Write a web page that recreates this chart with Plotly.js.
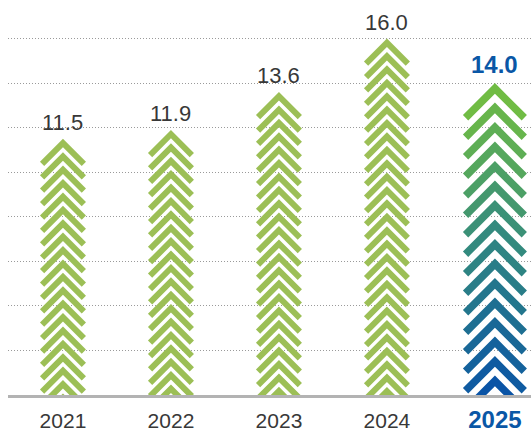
<!DOCTYPE html>
<html>
<head>
<meta charset="utf-8">
<script src="https://cdn.plot.ly/plotly-3.0.1.min.js"></script>
<style>html,body{margin:0;padding:0;background:#fff;}#chart{width:531px;height:433px;}</style>
</head>
<body>
<div id="chart"></div>
<script>
// ---- data ----
const years = ['2021', '2022', '2023', '2024', '2025'];
const values = [11.5, 11.9, 13.6, 16.0, 14.0];
const valueLabels = ['11.5', '11.9', '13.6', '16.0', '14.0'];
const highlighted = [false, false, false, false, true];

// ---- style / geometry (pixels) ----
const W = 531, H = 433;
const margin = {l: 8, r: 0, t: 0, b: 38};
const xRange = [-0.509, 4.334];
const yRange = [0, 17.73];
const ux = (W - margin.l - margin.r) / (xRange[1] - xRange[0]); // px per x unit
const uy = (H - margin.t - margin.b) / (yRange[1] - yRange[0]); // px per y unit

const normalStyle = {halfW: 23, t: 6, pitch: 13.4, color: '#9cbf56'};
const hiStyle = {halfW: 32, t: 7.5, pitch: 19.5};
const gradStops = [[0, [112, 188, 68]], [0.45, [52, 140, 125]], [1, [10, 84, 166]]];

function gradColor(f) {
  for (let s = 0; s < gradStops.length - 1; s++) {
    const [f0, c0] = gradStops[s], [f1, c1] = gradStops[s + 1];
    if (f <= f1) {
      const u = (f - f0) / (f1 - f0);
      const c = c0.map((v, j) => Math.round(v + (c1[j] - v) * u));
      return 'rgb(' + c.join(',') + ')';
    }
  }
  return 'rgb(' + gradStops[gradStops.length - 1][1].join(',') + ')';
}

// chevron polygon in px offsets relative to centreline tip
function chevronPx(st) {
  const h = st.t / 2, r2 = Math.SQRT2;
  const a = st.halfW - h / r2;
  return [
    [0, h * r2], [-a - h / r2, -a + h / r2], [-a + h / r2, -a - h / r2],
    [0, -h * r2], [a - h / r2, -a - h / r2], [a + h / r2, -a + h / r2], [0, h * r2]
  ];
}

function chevrons(i, value, st) {
  const poly = chevronPx(st);
  const h = st.t / 2;
  const list = [];
  let k = 0;
  while (true) {
    const tipC = value - (h * Math.SQRT2) / uy - k * st.pitch / uy;
    if (tipC + (h * Math.SQRT2) / uy <= 0) break;
    list.push({
      x: poly.map(p => i + p[0] / ux),
      y: poly.map(p => tipC + p[1] / uy)
    });
    k++;
  }
  return list;
}

const traces = [];
years.forEach((yr, i) => {
  if (!highlighted[i]) {
    const ch = chevrons(i, values[i], normalStyle);
    let xs = [], ys = [];
    ch.forEach(c => { xs = xs.concat(c.x, [null]); ys = ys.concat(c.y, [null]); });
    traces.push({
      type: 'scatter', mode: 'lines', x: xs, y: ys, fill: 'toself',
      fillcolor: normalStyle.color, line: {width: 0, color: normalStyle.color},
      hoverinfo: 'skip', connectgaps: false
    });
  } else {
    const ch = chevrons(i, values[i], hiStyle);
    const n = ch.length;
    ch.forEach((c, k) => {
      const col = gradColor(n > 1 ? k / (n - 1) : 0);
      traces.push({
        type: 'scatter', mode: 'lines', x: c.x, y: c.y, fill: 'toself',
        fillcolor: col, line: {width: 0, color: col}, hoverinfo: 'skip'
      });
    });
  }
});

const annotations = years.map((yr, i) => ({
  x: i, y: values[i], xref: 'x', yref: 'y',
  text: highlighted[i] ? '<b>' + valueLabels[i] + '</b>' : valueLabels[i],
  showarrow: false, yanchor: 'bottom', yshift: highlighted[i] ? 3 : 2,
  font: highlighted[i]
    ? {family: 'Liberation Sans, Arial, sans-serif', size: 24, color: '#0a57a6'}
    : {family: 'Liberation Sans, Arial, sans-serif', size: 22, color: '#383838'}
}));

const tickText = years.map((yr, i) => highlighted[i]
  ? '<b><span style="color:#0a57a6;font-size:24px">' + yr + '</span></b>'
  : yr);

const layout = {
  width: W, height: H, margin: margin,
  paper_bgcolor: '#ffffff', plot_bgcolor: '#ffffff',
  showlegend: false,
  font: {family: 'Liberation Sans, Arial, sans-serif', size: 21, color: '#383838'},
  xaxis: {
    range: xRange, tickvals: years.map((y, i) => i), ticktext: tickText,
    showgrid: false, zeroline: false, showline: true, linecolor: '#b3b3b3', linewidth: 3,
    ticks: '', ticklabelstandoff: 5, fixedrange: true
  },
  yaxis: {
    range: yRange, tick0: 0, dtick: 2, showgrid: true, gridcolor: '#9a9a9a', gridwidth: 1,
    griddash: '1px,2px', zeroline: false, showticklabels: false, ticks: '', fixedrange: true
  },
  annotations: annotations
};

Plotly.newPlot('chart', traces, layout, {displayModeBar: false, staticPlot: true});
</script>
</body>
</html>
